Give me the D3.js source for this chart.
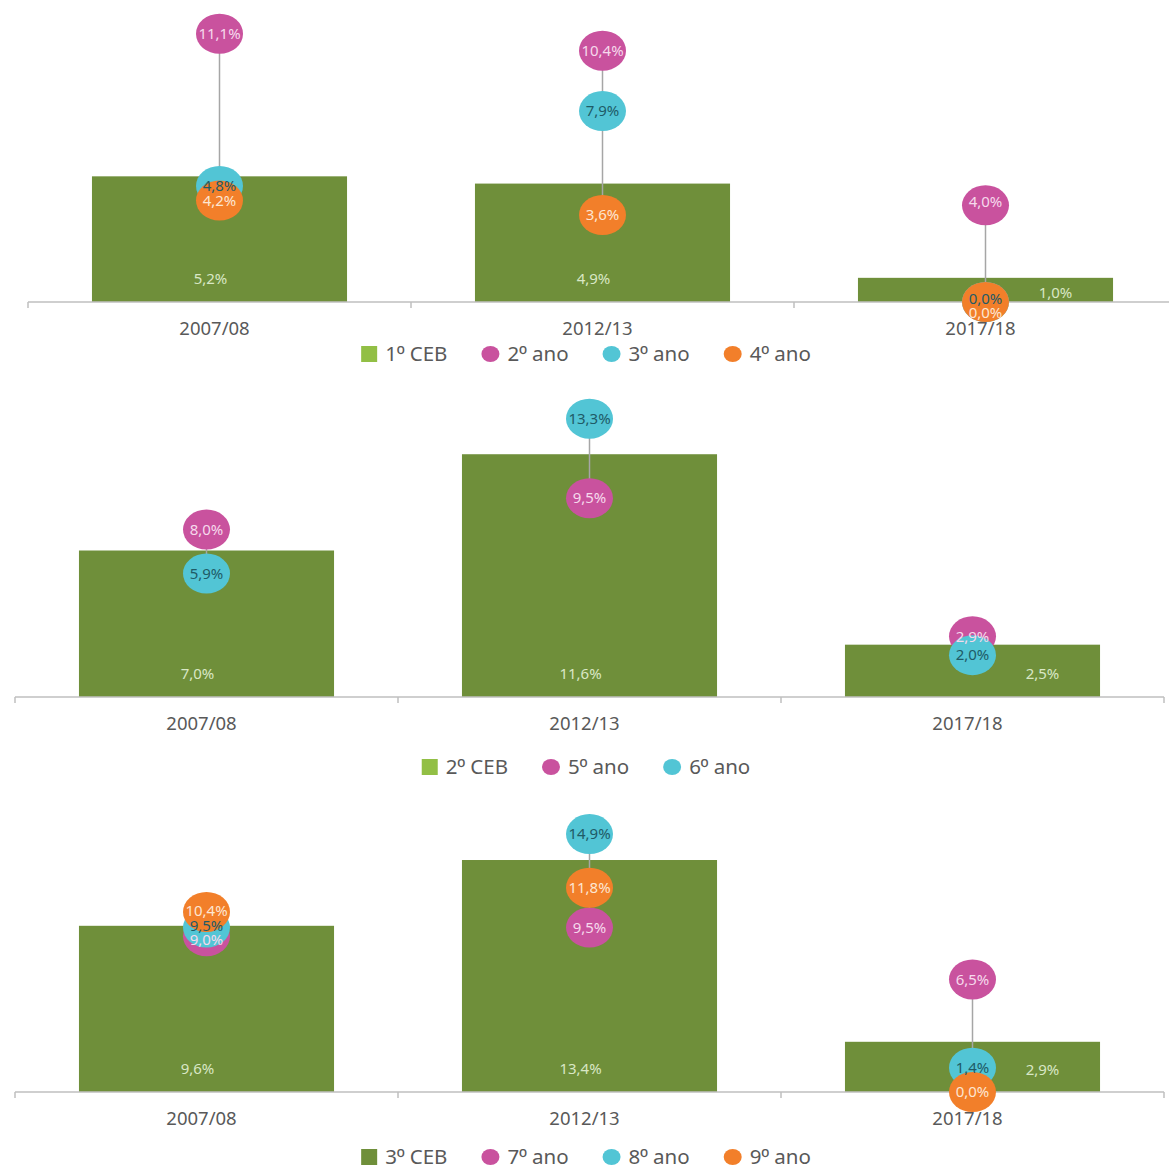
<!DOCTYPE html>
<html>
<head>
<meta charset="utf-8">
<script src="https://cdn.jsdelivr.net/npm/d3@7"></script>
<style>
  html, body { margin: 0; padding: 0; background: #ffffff; }
  svg { display: block; font-family: "Noto Sans", "Open Sans", sans-serif; }
</style>
</head>
<body>
<svg id="chart" width="1169" height="1167"></svg>
<script>
// School years shown on every panel
const categories = ["2007/08", "2012/13", "2017/18"];

// 1º ciclo
const ceb1 = [5.2, 4.9, 1.0];
const ano2 = [11.1, 10.4, 4.0];
const ano3 = [4.8, 7.9, 0.0];
const ano4 = [4.2, 3.6, 0.0];

// 2º ciclo
const ceb2 = [7.0, 11.6, 2.5];
const ano5 = [8.0, 9.5, 2.9];
const ano6 = [5.9, 13.3, 2.0];

// 3º ciclo
const ceb3 = [9.6, 13.4, 2.9];
const ano7 = [9.0, 9.5, 6.5];
const ano8 = [9.5, 14.9, 1.4];
const ano9 = [10.4, 11.8, 0.0];

const C = {
  bar: "#6f8f3a",
  barKeyLight: "#92bf45",
  pink: "#c9529e",
  cyan: "#52c5d5",
  orange: "#f27f2a",
  axis: "#bfbfbf",
  hilo: "#a6a6a6",
  text: "#595959"
};
const labelFill = { pink: "#f6d9ec", cyan: "#1f5b67", orange: "#fde6d2", bar: "#d9e7c5" };

const panels = [
  { bars: { name: "1º CEB", values: ceb1, key: C.barKeyLight },
    lines: [ { name: "2º ano", values: ano2, c: "pink" },
             { name: "3º ano", values: ano3, c: "cyan" },
             { name: "4º ano", values: ano4, c: "orange" } ],
    yMax: 12, yBottom: 302, yTop: 12, x0: 28, legendY: 354 },
  { bars: { name: "2º CEB", values: ceb2, key: C.barKeyLight },
    lines: [ { name: "5º ano", values: ano5, c: "pink" },
             { name: "6º ano", values: ano6, c: "cyan" } ],
    yMax: 14, yBottom: 697, yTop: 404, x0: 15, legendY: 767 },
  { bars: { name: "3º CEB", values: ceb3, key: C.bar },
    lines: [ { name: "7º ano", values: ano7, c: "pink" },
             { name: "8º ano", values: ano8, c: "cyan" },
             { name: "9º ano", values: ano9, c: "orange" } ],
    yMax: 16, yBottom: 1092, yTop: 815, x0: 15, legendY: 1157 }
];

const svg = d3.select("#chart");
const fmt = v => d3.format(".1f")(v).replace(".", ",") + "%";
const STEP = 383, BUB_RX = 23.5, BUB_RY = 20;

panels.forEach(p => {
  const g = svg.append("g");
  const xr = [p.x0, p.x0 + STEP * categories.length];
  const band = d3.scaleBand().domain(categories).range(xr).paddingInner(0.334).paddingOuter(0.167);
  const cat = d3.scaleBand().domain(categories).range(xr).padding(0);
  const y = d3.scaleLinear().domain([0, p.yMax]).range([p.yBottom, p.yTop]);
  const cx = d => band(d) + band.bandwidth() / 2;

  // bars
  g.selectAll("rect.bar").data(categories).join("rect")
    .attr("x", d => band(d)).attr("width", band.bandwidth())
    .attr("y", (d, i) => y(p.bars.values[i]))
    .attr("height", (d, i) => y(0) - y(p.bars.values[i]))
    .attr("fill", C.bar);

  // category axis: baseline with boundary ticks, labels via axisBottom
  const axis = d3.axisBottom(cat).tickSize(0).tickPadding(20);
  const ax = g.append("g").attr("transform", `translate(0,${y(0)})`).call(axis);
  ax.select(".domain").remove();
  ax.selectAll("text").attr("fill", C.text).style("font-size", "18.5px")
    .style("font-family", "'Noto Sans', 'Open Sans', sans-serif").attr("dx", -5);
  g.append("line").attr("x1", xr[0]).attr("x2", xr[1]).attr("y1", y(0)).attr("y2", y(0))
    .attr("stroke", C.axis).attr("stroke-width", 1.5);
  const bounds = categories.map(d => cat(d)).concat([xr[1]]);
  g.selectAll("line.tick-b").data(bounds).join("line")
    .attr("x1", d => d).attr("x2", d => d).attr("y1", y(0)).attr("y2", y(0) + 6)
    .attr("stroke", C.axis).attr("stroke-width", 1.5);

  // high-low lines joining the year series
  categories.forEach((c, i) => {
    const vals = p.lines.map(s => s.values[i]);
    g.append("line").attr("x1", cx(c)).attr("x2", cx(c))
      .attr("y1", y(d3.max(vals))).attr("y2", y(d3.min(vals)))
      .attr("stroke", C.hilo).attr("stroke-width", 1.5);
  });

  // bubbles, drawn in series order
  p.lines.forEach(s => {
    g.selectAll(null).data(categories).join("ellipse")
      .attr("cx", d => cx(d)).attr("cy", (d, i) => y(s.values[i]))
      .attr("rx", BUB_RX).attr("ry", BUB_RY).attr("fill", C[s.c]);
  });

  // bubble labels, nudged apart where they would collide
  categories.forEach((c, i) => {
    const labs = p.lines.map((s, k) => ({ s, k, v: s.values[i], y: y(s.values[i]) }))
      .sort((a, b) => a.y - b.y || a.k - b.k);
    const gap = 14;
    const orig = labs.map(l => l.y);
    for (let j = 1; j < labs.length; j++) {
      if (labs[j].y - labs[j - 1].y < gap) labs[j].y = labs[j - 1].y + gap;
    }
    const shift = 0.75 * (d3.mean(orig) - d3.mean(labs, l => l.y));
    labs.forEach(l => l.y += shift);
    labs.forEach(l => {
      g.append("text").attr("x", cx(c)).attr("y", l.y).attr("dy", "0.35em")
        .attr("text-anchor", "middle").attr("fill", labelFill[l.s.c])
        .style("font-size", "15px").text(fmt(l.v));
    });
  });

  // bar value labels near the base, moved aside when a bubble sits on them
  categories.forEach((c, i) => {
    const v = p.bars.values[i];
    const top = y(v), base = y(0);
    let ly = Math.max(base - 23, (top + base) / 2 + 3);
    let lx = cx(c) - 9;
    const blocked = p.lines.some(s => Math.abs(y(s.values[i]) - ly) < 32);
    if (blocked) lx = cx(c) + 70;
    g.append("text").attr("x", lx).attr("y", ly).attr("dy", "0.35em")
      .attr("text-anchor", "middle").attr("fill", labelFill.bar)
      .style("font-size", "15px").text(fmt(v));
  });

  // legend, centred on the page; the ordinal sign uses a face with an underlined º
  const items = [{ name: p.bars.name, kind: "rect", color: p.bars.key }]
    .concat(p.lines.map(s => ({ name: s.name, kind: "ellipse", color: C[s.c] })));
  const lg = g.append("g");
  let x = 0;
  items.forEach(it => {
    const ig = lg.append("g").attr("transform", `translate(${x},${p.legendY})`);
    if (it.kind === "rect") {
      ig.append("rect").attr("x", 0).attr("y", -8).attr("width", 16).attr("height", 16).attr("fill", it.color);
    } else {
      ig.append("ellipse").attr("cx", 9).attr("cy", 0).attr("rx", 9).attr("ry", 8).attr("fill", it.color);
    }
    const t = ig.append("text").attr("x", it.kind === "rect" ? 24 : 26).attr("y", 0).attr("dy", "0.35em")
      .attr("fill", C.text).style("font-size", "20.5px");
    it.name.split(/(º)/).filter(s => s.length).forEach(part => {
      const ts = t.append("tspan").text(part);
      if (part === "º") ts.style("font-family", "'Liberation Sans', 'DejaVu Sans', sans-serif");
    });
    x += (it.kind === "rect" ? 24 : 26) + t.node().getComputedTextLength() + 34;
  });
  const lw = x - 34;
  lg.attr("transform", `translate(${586 - lw / 2},0)`);
});
</script>
</body>
</html>
